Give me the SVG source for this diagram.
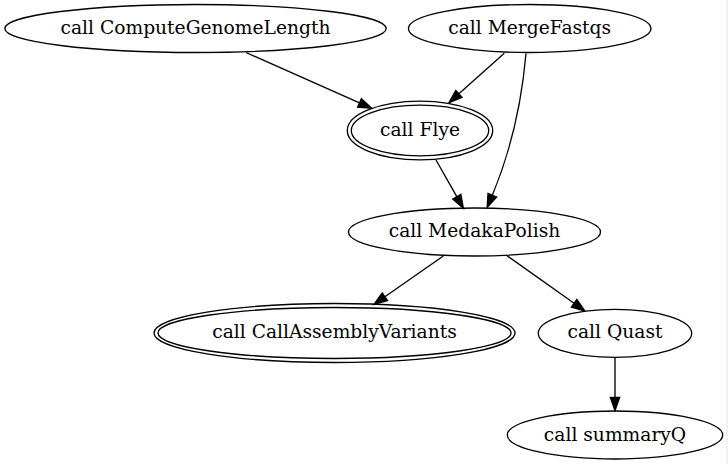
<svg xmlns="http://www.w3.org/2000/svg" width="728" height="464" viewBox="0 0 728 464">
<style>
  .n ellipse { fill: none; stroke: #000; stroke-width: 1.33; }
  .n text { font-family: "DejaVu Serif", "Liberation Serif", serif; font-size: 18.67px; text-anchor: middle; fill: #000; }
  .e path { fill: none; stroke: #000; stroke-width: 1.33; marker-end: url(#arr); }
</style>
<defs>
  <marker id="arr" markerUnits="userSpaceOnUse" markerWidth="14" markerHeight="10" refX="0" refY="4.67" orient="auto" overflow="visible">
    <path d="M0,0 L13.3,4.67 L0,9.33 Z" fill="#000" stroke="#000" stroke-width="1.33"/>
  </marker>
</defs>
<rect width="728" height="464" fill="#fff"/>
<line x1="727" y1="0" x2="727" y2="464" stroke="#e6e6e6" stroke-width="1"/>
<g id="connectors" class="e">
  <path d="M246,52.5 L359.5,102.9"/>
  <path d="M504.3,53.3 L458.9,93.8"/>
  <path d="M526,53.3 C522,100 512,148 492.3,195.2"/>
  <path d="M436,160 L456.8,196.7"/>
  <path d="M443.3,256 L384.9,296.7"/>
  <path d="M506,255 L574.1,303.3"/>
  <path d="M615,357.3 L615,397.4"/>
</g>
<g id="ComputeGenomeLength" class="n">
  <ellipse cx="195.5" cy="28.5" rx="190.7" ry="24"/>
  <text x="195.5" y="33.5">call ComputeGenomeLength</text>
</g>
<g id="MergeFastqs" class="n">
  <ellipse cx="529.7" cy="28.5" rx="121.3" ry="24"/>
  <text x="529.7" y="33.5">call MergeFastqs</text>
</g>
<g id="Flye" class="n">
  <ellipse cx="420" cy="130.5" rx="68.7" ry="25.3"/>
  <ellipse cx="420" cy="130.5" rx="72.7" ry="29.4"/>
  <text x="420" y="135.7">call Flye</text>
</g>
<g id="MedakaPolish" class="n">
  <ellipse cx="474.5" cy="232" rx="126" ry="24"/>
  <text x="474.5" y="237">call MedakaPolish</text>
</g>
<g id="CallAssemblyVariants" class="n">
  <ellipse cx="334.5" cy="333" rx="176.5" ry="25.5"/>
  <ellipse cx="334.5" cy="333" rx="180.5" ry="29.5"/>
  <text x="334.5" y="337.5">call CallAssemblyVariants</text>
</g>
<g id="Quast" class="n">
  <ellipse cx="615" cy="333.3" rx="76.7" ry="24"/>
  <text x="615" y="338">call Quast</text>
</g>
<g id="summaryQ" class="n">
  <ellipse cx="615" cy="435" rx="107.7" ry="24"/>
  <text x="615" y="440.5">call summaryQ</text>
</g>
</svg>
